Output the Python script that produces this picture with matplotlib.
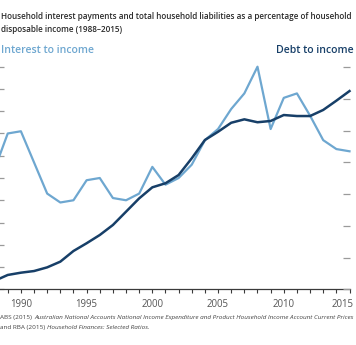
import matplotlib
matplotlib.use("Agg")
import matplotlib.pyplot as plt
from matplotlib.ticker import MultipleLocator
from matplotlib.transforms import ScaledTranslation

plt.rcParams['font.family'] = ['Open Sans', 'DejaVu Sans']

years = list(range(1988, 2016))
interest_to_income = [7.4, 9.0, 9.1, 7.7, 6.3, 5.9, 6.0, 6.9, 7.0, 6.1, 6.0, 6.3, 7.5, 6.7,
                      7.0, 7.6, 8.7, 9.2, 10.1, 10.8, 12.0, 9.2, 10.6, 10.8, 9.8, 8.7, 8.3, 8.2]
debt_to_income = [46.7, 51.3, 53.1, 54.4, 57.3, 61.8, 70.2, 76.3, 82.8, 90.7, 101.2, 111.7,
                  120.4, 123.6, 130.1, 143.3, 157.7, 164.2, 171.3, 174.0, 171.7, 172.7, 177.4,
                  176.6, 176.6, 181.4, 188.7, 196.3]
label_years = [1990, 1995, 2000, 2005, 2010, 2015]
left_ticks = list(range(2, 13))
right_ticks = [40, 65, 90, 115, 140, 165, 190, 215]

title_l1 = "Household interest payments and total household liabilities as a percentage of household"
title_l2 = "disposable income (1988\u20132015)"
series_left = "Interest to income"
series_right = "Debt to income"

W, H = 356, 345
fig = plt.figure(figsize=(W / 100, H / 100), dpi=100)
renderer = fig.canvas.get_renderer()

def fx(x):
    return x / W

def fy(y):
    return 1 - y / H

def twidth(s, **kw):
    t = fig.text(0, 0, s, **kw)
    w = t.get_window_extent(renderer).width
    t.remove()
    return w

LIGHT = '#6ea7d0'
DARK = '#173f68'

x_left_px, x_right_px = -5.4, 349.5
y_bottom_px, y_top_px = 289.3, 60.0
ax = fig.add_axes([fx(x_left_px), fy(y_bottom_px), (x_right_px - x_left_px) / W,
                   (y_bottom_px - y_top_px) / H])
px_per_left = 22.26
px_per_right = 31.71 / 25
ax.set_xlim(1988, 2015)
ax.set_ylim(2, 2 + (y_bottom_px - y_top_px) / px_per_left)
ax2 = ax.twinx()
ax2.set_ylim(40, 40 + (y_bottom_px - y_top_px) / px_per_right)

ax.plot(years, interest_to_income, color=LIGHT, lw=1.6, clip_on=False)
ax2.plot(years, debt_to_income, color=DARK, lw=1.8, clip_on=False)

for a in (ax, ax2):
    for s in a.spines.values():
        s.set_visible(False)
ax.spines['bottom'].set_visible(True)
ax.spines['bottom'].set_color('#3a3a3a')
ax.spines['bottom'].set_linewidth(0.9)

ax.set_xticks(label_years)
ax.set_xticklabels([str(y) for y in label_years])
ax.xaxis.set_minor_locator(MultipleLocator(1))
ax.tick_params(axis='x', which='both', direction='out', length=3.0, width=0.8,
               color='#3a3a3a', labelsize=6.9, labelcolor='#555555', pad=4.2)
last = ax.get_xticklabels()[-1]
last.set_transform(last.get_transform() + ScaledTranslation(-0.065, 0, fig.dpi_scale_trans))

ax.set_yticks(left_ticks)
ax.tick_params(axis='y', which='both', direction='in', length=6.2, width=0.9,
               color='#9a9a9a', labelleft=False)
ax2.set_yticks(right_ticks)
ax2.tick_params(axis='y', which='both', direction='in', length=5.0, width=0.9,
                color='#9a9a9a', labelright=False)

# Title
tsize = 5.9
w1 = twidth(title_l1, fontsize=tsize, fontweight='semibold')
if w1 > 352:
    tsize = tsize * 352 / w1
tkw = dict(fontsize=tsize, fontweight='semibold', color='#2a2a2a')
fig.text(fx(1.0), fy(19.3), title_l1, va='baseline', ha='left', **tkw)
fig.text(fx(1.0), fy(31.7), title_l2, va='baseline', ha='left', **tkw)

# Series labels
skw = dict(fontsize=7.6, fontweight='semibold')
fig.text(fx(1.0), fy(53.0), series_left, color=LIGHT, va='baseline', ha='left', **skw)
fig.text(fx(354.0), fy(53.0), series_right, color=DARK, va='baseline', ha='right', **skw)

# Source notes
nsize = 4.6
full1 = "ABS (2015) Australian National Accounts National Income Expenditure and Product Household Income Account Current Prices"
w_src = twidth(full1.replace(' ', '\u00a0'), fontsize=nsize, fontstyle='italic')
if w_src > 352:
    nsize = nsize * 352 / w_src
nkw = dict(fontsize=nsize, color='#444444')
x0 = 0.5
parts1 = [("ABS (2015) ", 'normal'),
          ("Australian National Accounts National Income Expenditure and Product Household Income Account Current Prices", 'italic')]
parts2 = [("and RBA (2015) ", 'normal'),
          ("Household Finances: Selected Ratios.", 'italic')]
for parts, ybase in ((parts1, 319.3), (parts2, 329.0)):
    x = x0
    for s, style in parts:
        fig.text(fx(x), fy(ybase), s, va='baseline', ha='left', fontstyle=style, **nkw)
        x += twidth(s.replace(' ', '\u00a0'), fontstyle=style, **nkw)

fig.savefig('out.png', dpi=100)
